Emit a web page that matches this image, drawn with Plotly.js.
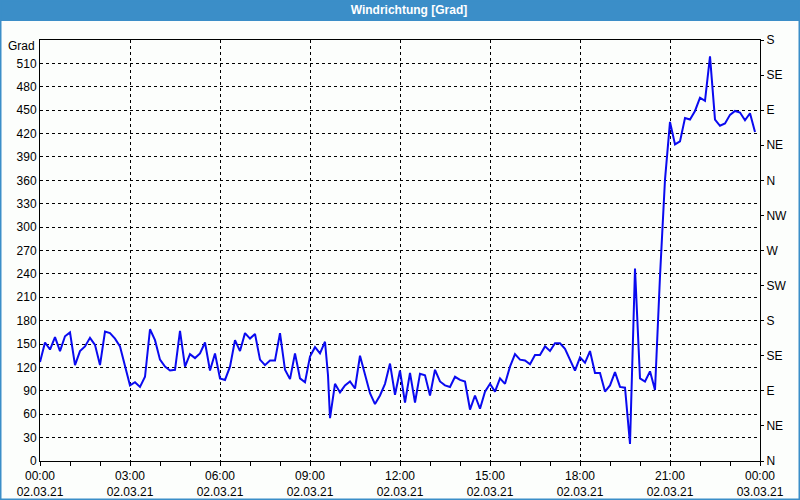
<!DOCTYPE html>
<html>
<head>
<meta charset="utf-8">
<script src="https://cdn.plot.ly/plotly-3.0.1.min.js"></script>
<style>
html,body{margin:0;padding:0;background:#fcfefc;}
#chart{width:800px;height:500px;}
</style>
</head>
<body>
<div id="chart"></div>
<script>
// time stamps (minutes after 00:00, 02.03.21)
const minutes = [0,10,20,30,40,50,60,70,80,90,100,110,120,130,140,150,160,170,180,190,200,210,220,230,240,250,260,270,280,290,300,310,320,330,340,350,360,370,380,390,400,410,420,430,440,450,460,470,480,490,500,510,520,530,540,550,560,570,576,580,590,600,610,620,630,640,650,660,670,680,690,700,710,720,730,740,750,760,770,780,790,800,810,820,830,840,850,860,870,880,890,900,910,920,930,940,950,960,970,980,990,1000,1010,1020,1030,1040,1050,1060,1070,1080,1090,1100,1110,1120,1130,1140,1150,1160,1170,1180,1190,1200,1210,1220,1230,1240,1250,1260,1270,1280,1290,1300,1310,1320,1330,1340,1350,1360,1370,1380,1390,1400,1410,1420,1430];
// wind direction in degrees
const direction = [127,152,143,159,141,160,165,123,141,147,158,149,123,166,164,157,147,123,97,101,95,108,169,155,130,121,116,117,167,121,137,132,138,152,116,138,106,104,121,155,141,164,157,163,130,123,129,129,164,117,105,138,106,101,134,146,138,153,110,55,99,88,97,102,93,135,112,87,73,84,99,125,85,116,75,113,75,112,110,84,117,102,97,95,108,104,102,66,84,67,89,99,89,106,99,121,137,130,129,124,136,136,147,141,151,151,144,129,116,133,126,141,113,113,89,97,114,95,94,22,247,106,102,115,91,237,361,435,406,410,440,438,449,466,462,519,438,430,433,444,449,447,437,446,422];

// x tick labels
const xTickMinutes = [0,180,360,540,720,900,1080,1260,1440];
const xTickTimes = ['00:00','03:00','06:00','09:00','12:00','15:00','18:00','21:00','00:00'];
const xTickDates = ['02.03.21','02.03.21','02.03.21','02.03.21','02.03.21','02.03.21','02.03.21','02.03.21','03.03.21'];

// left axis ticks (degrees)
const yTicks = [0,30,60,90,120,150,180,210,240,270,300,330,360,390,420,450,480,510];
// right axis compass labels
const compassVals = [0,45,90,135,180,225,270,315,360,405,450,495,540];
const compassText = ['N','NE','E','SE','S','SW','W','NW','N','NE','E','SE','S'];

const L = 40, R = 40, T = 40, B = 39, W = 800, H = 500;
const pw = W - L - R, ph = H - T - B;
const px = p => (p - L) / pw;
const py = p => (H - B - p) / ph;

const font = 'Liberation Sans, Arial, sans-serif';
const blue = '#3b8ec8';

const trace = {
  x: minutes, y: direction, type: 'scatter', mode: 'lines',
  line: {color: '#0a0af0', width: 2},
  hoverinfo: 'skip', showlegend: false
};
const dummy = {
  x: [0], y: [0], yaxis: 'y2', type: 'scatter', mode: 'markers',
  marker: {opacity: 0}, hoverinfo: 'skip', showlegend: false
};

const layout = {
  width: W, height: H,
  margin: {l: L, r: R, t: T, b: B, pad: 0},
  paper_bgcolor: '#fcfefc', plot_bgcolor: '#fcfefc',
  font: {family: font, size: 12, color: '#000'},
  title: {
    text: '<b>Windrichtung [Grad]</b>',
    font: {family: font, size: 12, color: '#ffffff'},
    xref: 'container', yref: 'container', x: 409 / W, y: 1 - 10 / H,
    xanchor: 'center', yanchor: 'middle'
  },
  xaxis: {
    range: [0, 1440], tickmode: 'array', tickvals: xTickMinutes,
    ticktext: xTickTimes.map((t, i) => t + '<br>' + xTickDates[i]),
    showline: true, linecolor: '#000', linewidth: 1, mirror: true,
    ticks: 'outside', ticklen: 4, tickcolor: '#000', tickwidth: 1,
    minor: {dtick: 60, tick0: 0, ticks: 'outside', ticklen: 4, tickcolor: '#000', showgrid: false},
    showgrid: true, gridcolor: '#000', gridwidth: 1, griddash: '3px,3px',
    zeroline: false, tickfont: {family: font, size: 12}, fixedrange: true
  },
  yaxis: {
    range: [0, 540], tickmode: 'array', tickvals: yTicks,
    showline: true, linecolor: '#000', linewidth: 1,
    ticks: '', showgrid: true, gridcolor: '#000', gridwidth: 1, griddash: '3px,3px',
    zeroline: false, tickfont: {family: font, size: 12}, fixedrange: true
  },
  yaxis2: {
    overlaying: 'y', side: 'right', range: [0, 540], tickmode: 'array',
    tickvals: compassVals, ticktext: compassText,
    showline: true, linecolor: '#000', linewidth: 1,
    ticks: 'outside', ticklen: 3, tickcolor: '#000', showgrid: false, zeroline: false,
    tickfont: {family: font, size: 12}, fixedrange: true
  },
  shapes: [
    {type: 'rect', xref: 'paper', yref: 'paper', layer: 'below',
     x0: px(0), x1: px(W), y0: py(21), y1: py(0),
     fillcolor: blue, line: {width: 0}},
    {type: 'rect', xref: 'paper', yref: 'paper', layer: 'above',
     x0: px(0.5), x1: px(W - 0.5), y0: py(H - 0.5), y1: py(0.5),
     fillcolor: 'rgba(0,0,0,0)', line: {color: blue, width: 2}}
  ],
  annotations: [
    {text: 'Grad', xref: 'paper', yref: 'paper', x: px(37), y: py(46),
     xanchor: 'right', yanchor: 'middle', showarrow: false,
     font: {family: font, size: 12, color: '#000'}}
  ]
};

Plotly.newPlot('chart', [trace, dummy], layout, {displayModeBar: false, staticPlot: true});
</script>
</body>
</html>
